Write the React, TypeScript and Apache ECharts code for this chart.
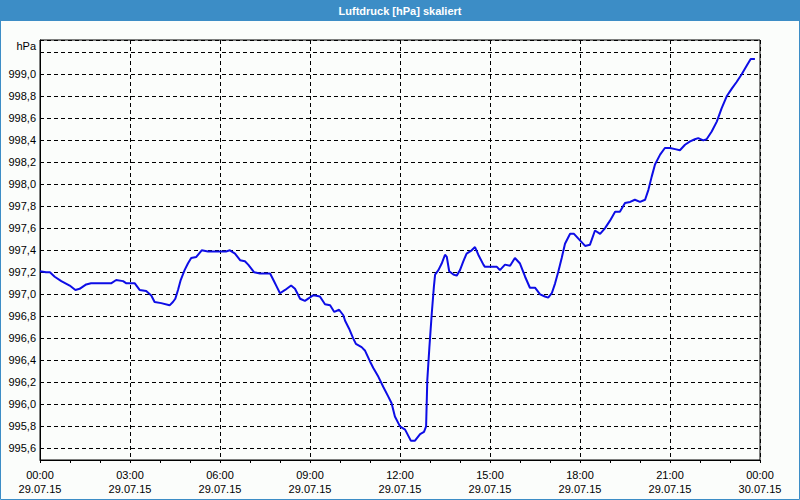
import React, { useEffect, useRef } from "react";
import * as echarts from "echarts";

const chartTitle = "Luftdruck [hPa] skaliert";
const unitLabel = "hPa";

// hours since 29.07.15 00:00
const hours = [
  0.0, 0.2, 0.33, 0.49, 0.71, 0.99, 1.18, 1.32, 1.54, 1.7, 2.37, 2.54, 2.77, 2.88,
  3.16, 3.32, 3.54, 3.71, 3.82, 4.04, 4.32, 4.43, 4.51, 4.6, 4.69, 4.82, 4.93, 5.04,
  5.21, 5.39, 5.6, 6.2, 6.33, 6.5, 6.67, 6.83, 6.94, 7.14, 7.33, 7.67, 7.78, 7.89,
  8.0, 8.17, 8.37, 8.5, 8.67, 8.83, 9.1, 9.17, 9.33, 9.5, 9.67, 9.81, 9.97, 10.11,
  10.17, 10.3, 10.44, 10.53, 10.72, 10.83, 11.0, 11.11, 11.28, 11.44, 11.61, 11.72,
  11.83, 12.0, 12.17, 12.36, 12.5, 12.67, 12.8, 12.87, 12.91, 12.98, 13.06, 13.13,
  13.17, 13.28, 13.39, 13.5, 13.56, 13.64, 13.78, 13.89, 14.0, 14.11, 14.22, 14.39,
  14.5, 14.61, 14.78, 14.83, 15.23, 15.33, 15.5, 15.67, 15.83, 16.0, 16.17, 16.33,
  16.5, 16.67, 16.83, 16.94, 17.06, 17.17, 17.28, 17.39, 17.5, 17.67, 17.8, 18.0,
  18.17, 18.33, 18.5, 18.67, 18.83, 19.0, 19.17, 19.33, 19.5, 19.67, 19.83, 20.0,
  20.17, 20.28, 20.39, 20.5, 20.67, 20.83, 21.0, 21.17, 21.33, 21.5, 21.67, 21.83,
  21.94, 22.11, 22.22, 22.39, 22.56, 22.72, 22.89, 23.06, 23.22, 23.39, 23.56,
  23.69, 23.83,
];

const pressure = [
  997.21, 997.2, 997.2, 997.16, 997.12, 997.08, 997.04, 997.05, 997.09, 997.1, 997.1,
  997.13, 997.12, 997.1, 997.1, 997.04, 997.03, 996.99, 996.93, 996.92, 996.9, 996.93,
  996.96, 997.04, 997.13, 997.22, 997.28, 997.33, 997.34, 997.4, 997.39, 997.39,
  997.4, 997.37, 997.31, 997.3, 997.27, 997.2, 997.19, 997.19, 997.13, 997.07, 997.01,
  997.04, 997.08, 997.05, 996.96, 996.94, 996.99, 996.99, 996.98, 996.91, 996.9,
  996.84, 996.86, 996.81, 996.76, 996.69, 996.6, 996.55, 996.52, 996.49, 996.39,
  996.33, 996.25, 996.16, 996.07, 996.01, 995.89, 995.8, 995.77, 995.67, 995.67,
  995.73, 995.75, 995.8, 996.22, 996.52, 996.83, 997.07, 997.18, 997.22, 997.28,
  997.36, 997.34, 997.21, 997.18, 997.17, 997.22, 997.3, 997.37, 997.4, 997.43,
  997.36, 997.27, 997.25, 997.25, 997.22, 997.27, 997.26, 997.33, 997.28, 997.16,
  997.06, 997.06, 997.0, 996.98, 996.97, 997.01, 997.1, 997.21, 997.33, 997.46,
  997.55, 997.55, 997.49, 997.44, 997.45, 997.58, 997.55, 997.6, 997.67, 997.75,
  997.75, 997.83, 997.84, 997.86, 997.84, 997.86, 997.95, 998.07, 998.18, 998.27,
  998.33, 998.33, 998.32, 998.31, 998.36, 998.39, 998.41, 998.42, 998.4, 998.41,
  998.48, 998.57, 998.69, 998.8, 998.87, 998.93, 999.0, 999.08, 999.14, 999.14,
];

const timeLabels = ["00:00", "03:00", "06:00", "09:00", "12:00", "15:00", "18:00", "21:00", "00:00"];
const dateLabels = [
  "29.07.15", "29.07.15", "29.07.15", "29.07.15", "29.07.15",
  "29.07.15", "29.07.15", "29.07.15", "30.07.15",
];
// highest labelled pressure tick (the gridline above it carries no label)
const topLabelledValue = 999.0;

const FONT = "Liberation Sans";
const BAR_BLUE = "#3c8dc6";

export default function App() {
  const ref = useRef<HTMLDivElement>(null);

  useEffect(() => {
    if (!ref.current) return;
    const chart = echarts.init(ref.current, null, { renderer: "svg" });
    const data = hours.map((h, i) => [h, pressure[i]]);
    chart.setOption({
      animation: false,
      backgroundColor: "#fbfdfb",
      textStyle: { fontFamily: FONT },
      graphic: [
        {
          type: "rect",
          shape: { x: 0, y: 0, width: 800, height: 21 },
          style: { fill: BAR_BLUE },
          z: 0,
        },
        {
          type: "rect",
          shape: { x: 0.5, y: 0.5, width: 799, height: 499 },
          style: { fill: "none", stroke: BAR_BLUE, lineWidth: 1 },
          z: 0,
        },
        {
          type: "text",
          x: 400,
          y: 10.5,
          style: {
            text: chartTitle,
            fill: "#ffffff",
            font: `bold 11px "${FONT}"`,
            align: "center",
            verticalAlign: "middle",
          },
          z: 1,
        },
        {
          type: "text",
          x: 36,
          y: 46,
          style: {
            text: unitLabel,
            fill: "#000000",
            font: `11px "${FONT}"`,
            align: "right",
            verticalAlign: "middle",
          },
          z: 1,
        },
      ],
      grid: {
        left: 40,
        right: 40,
        top: 40,
        bottom: 40,
        show: true,
        borderColor: "#000",
        borderWidth: 1,
        backgroundColor: "transparent",
      },
      xAxis: {
        type: "value",
        min: 0,
        max: 24,
        interval: 3,
        axisLine: { show: true, lineStyle: { color: "#000", width: 1 } },
        axisTick: { show: true, length: 3, lineStyle: { color: "#000" } },
        minorTick: { show: true, splitNumber: 3, length: 3, lineStyle: { color: "#000" } },
        splitLine: { show: true, lineStyle: { color: "#000", type: [4, 3], width: 1 } },
        axisLabel: {
          color: "#000",
          fontFamily: FONT,
          fontSize: 11,
          lineHeight: 14,
          margin: 8,
          showMinLabel: true,
          showMaxLabel: true,
          formatter: (v: number) => {
            const i = Math.round(v / 3);
            return `${timeLabels[i]}\n${dateLabels[i]}`;
          },
        },
      },
      yAxis: {
        type: "value",
        min: 995.494,
        max: 999.312,
        splitNumber: 19,
        minInterval: 0.2,
        maxInterval: 0.2,
        axisLine: { show: true, lineStyle: { color: "#000" } },
        axisTick: { show: false },
        splitLine: { show: true, lineStyle: { color: "#000", type: [4, 3], width: 1 } },
        axisLabel: {
          color: "#000",
          fontFamily: FONT,
          fontSize: 11,
          margin: 4,
          showMinLabel: false,
          showMaxLabel: false,
          formatter: (v: number) =>
            v > topLabelledValue + 0.05 ? "" : v.toFixed(1).replace(".", ","),
        },
      },
      series: [
        {
          type: "line",
          data,
          showSymbol: false,
          symbol: "none",
          lineStyle: { color: "#0d0de6", width: 2 },
          z: 3,
        },
      ],
    });
    return () => chart.dispose();
  }, []);

  return (
    <div
      ref={ref}
      style={{ position: "fixed", left: 0, top: 0, width: 800, height: 500 }}
    />
  );
}
